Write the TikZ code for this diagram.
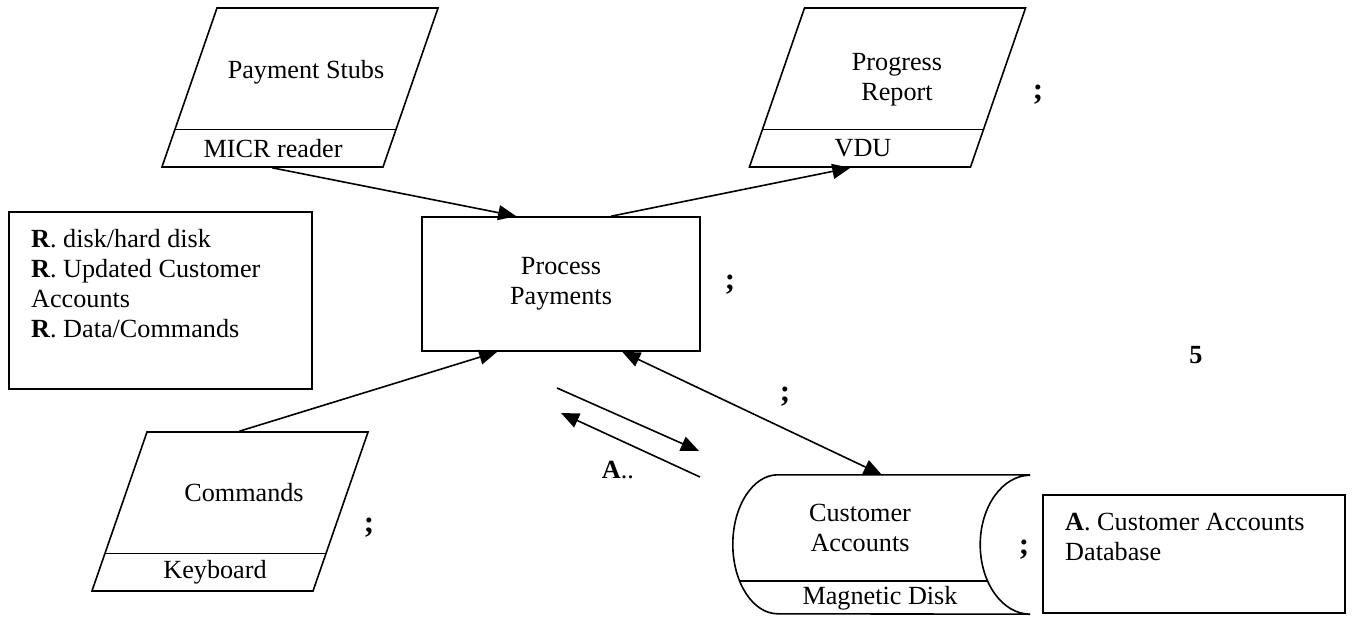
\documentclass[tikz,border=0pt]{standalone}
\usepackage{fontspec}
\setmainfont{Liberation Serif}
\usetikzlibrary{positioning}
\usetikzlibrary{arrows.meta}
\usetikzlibrary{shapes.geometric}
\usetikzlibrary{calc}

\begin{document}
\begin{tikzpicture}[x=1pt, y=1pt]
    \tikzstyle{every node}=[font=\fontsize{26.2}{30}\selectfont]
    \tikzstyle{device}=[trapezium, draw, line width=1.6pt,
            trapezium left angle=70.9, trapezium right angle=109.1,
            inner xsep=83pt, inner ysep=79.5pt]
    \tikzstyle{process}=[rectangle, draw, line width=1.6pt,
            minimum width=278pt, minimum height=134pt, align=center]
    \tikzstyle{note}=[rectangle, draw, line width=1.6pt, inner sep=0pt]
    \tikzstyle{semi}=[font=\fontsize{31}{34}\selectfont\bfseries]
    \tikzstyle{flow}=[line width=1.6pt, -{Triangle[length=18pt, width=15pt]}]

        \useasboundingbox (0,0) rectangle (1356,616);

        % devices
        \node[device] (stubs) at (300,528.5) {};
        \node[device] (report) at (887.5,528.5) {};
        \node[device] (commands) at (230,104.5) {};

        \foreach \d in {stubs, report, commands}
        {
            \draw[line width=1.6pt]
            ($(\d.bottom left corner)!0.239!(\d.top left corner)$) --
            ($(\d.bottom right corner)!0.239!(\d.top right corner)$);
        }

        \node (stubstext) at (306,544) {Payment Stubs};
        \node (micr) at (273,467) {MICR reader};
        \node[align=center] (reporttext) at (897,536) {Progress\\Report};
        \node (vdu) at (863,468) {VDU};
        \node (commandstext) at (244,123) {Commands};
        \node (keyboard) at (215,44) {Keyboard};

        % process
        \node[process] (proc) at (561,332) {Process\\Payments};

        % magnetic disk
        \node[minimum width=252pt, minimum height=139pt, inner sep=0pt]
        (disk) at (904,71.5) {};
        \draw[line width=1.6pt] (disk.north east) -- (disk.north west)
        arc[start angle=90, end angle=270, x radius=45pt, y radius=69.5pt]
        -- (disk.south east)
        arc[start angle=270, end angle=90, x radius=50pt, y radius=69.5pt];
        \draw[line width=1.6pt]
        ($(disk.south west)+(-38.3,33.5)$) --
        ($(disk.south east)+(-42.5,33.5)$);
        \node[align=center] (disktext) at (860,88) {Customer\\Accounts};
        \node (magnetic) at (880,18) {Magnetic Disk};

        % notes
        \node[note, minimum width=303pt, minimum height=177pt]
        (notes) at (160.5,315.5) {};
        \node[anchor=north west, inner sep=0pt, align=left] (notestext)
        at (31,387) {\textbf{R}. disk/hard disk\\
        \textbf{R}. Updated Customer\\ Accounts\\ \textbf{R}. Data/Commands};

        \node[note, minimum width=302pt, minimum height=118pt]
        (dbnote) at (1194,62) {};
        \node[anchor=north west, inner sep=0pt, align=left] (dbtext)
        at (1065,103) {\textbf{A}. Customer Accounts\\ Database};

        % flows
        \draw[flow] (stubs.bottom side) -- ($(proc.north west)+(95,0)$);
        \draw[flow] ($(proc.north west)+(190,0)$) --
        ($(report.bottom left corner)+(102,0)$);
        \draw[flow] ($(commands.top left corner)+(93,0)$) --
        ($(proc.south west)+(76,0)$);
        \draw[flow, {Triangle[length=18pt, width=15pt]}-{Triangle[length=18pt, width=15pt]}]
        ($(proc.south west)+(201,0)$) -- ($(disk.north west)+(104,0)$);

        \coordinate (f1s) at (557,228);
        \coordinate (f1e) at (699,165);
        \coordinate (f2s) at (700,139);
        \coordinate (f2e) at (561,203);
        \draw[flow] (f1s) -- (f1e);
        \draw[flow] (f2s) -- (f2e);

        % labels
        \node (flowlabel) at (618,146) {\textbf{A}..};
        \node[semi] (semi1) at (1038,521) {;};
        \node[semi] (semi2) at (730,331) {;};
        \node[semi] (semi3) at (785,219) {;};
        \node[semi] (semi4) at (369,88) {;};
        \node[semi] (semi5) at (1024,66) {;};
        \node[font=\fontsize{26.2}{30}\selectfont\bfseries] (five)
        at (1196,261) {5};

    \end{tikzpicture}
\end{document}
